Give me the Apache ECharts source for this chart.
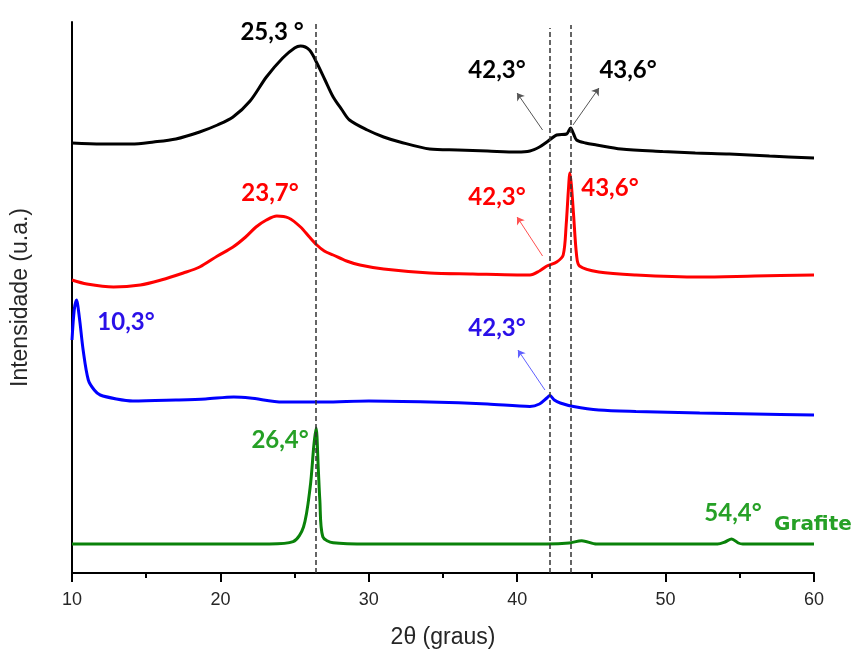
<!DOCTYPE html>
<html>
<head>
<meta charset="utf-8">
<title>DRX</title>
<script src="https://cdn.jsdelivr.net/npm/echarts@6/dist/echarts.min.js"></script>
<style>
	html, body {margin:0; padding:0; background:#fff; overflow:hidden;}
	#chart {width:862px; height:649px;}
</style>
</head>
<body>
<div id="chart"></div>
<script>
// 2θ values and intensities (u.a., offset per curve)
var megoAlphaX = [10, 12, 14, 15.5, 17, 18.6, 19.8, 20.85, 22.0, 23.1, 24.2, 25.0, 25.4, 26.0, 26.5, 27.05, 27.6, 28.2, 28.7, 29.9, 31, 32.1, 34.1, 36, 38, 40, 40.86, 41.5, 42.0, 42.66, 43.33, 43.6, 43.8, 44.0, 44.6, 45.35, 47, 49.8, 52, 54.3, 57, 60];
var megoAlphaY = [430, 429, 429, 431, 434, 441, 448, 456, 472, 496, 515, 525, 527, 523, 510, 493, 476, 463, 453, 443, 436, 431, 424, 423, 422, 421, 422, 426, 431, 438, 439, 445, 439, 433, 430, 428, 424, 421.5, 420, 419, 417, 415];

var megoX = [10, 11, 12.8, 14.6, 16, 17.5, 18.6, 19.8, 20.85, 21.7, 22.4, 23.1, 23.8, 24.6, 25.4, 26.0, 26.5, 27.0, 27.6, 28.5, 29.4, 31, 34.1, 37, 40, 40.86, 41.5, 42.0, 42.66, 43.1, 43.3, 43.45, 43.55, 43.65, 43.8, 44.0, 44.2, 45.5, 48, 52.3, 56, 60];
var megoY = [293, 289, 286, 288, 293, 300, 306, 317, 326, 336, 346, 353, 357, 355, 346, 336, 328, 322, 318, 312, 308, 304, 300, 299, 298, 298, 302, 307, 311, 318, 348, 383, 400, 388, 358, 318, 307, 301, 298, 296, 297, 298];

var groX = [10, 10.15, 10.3, 10.5, 10.75, 11.1, 11.5, 11.9, 13, 14.1, 17, 19, 20.9, 22, 24.2, 27, 30, 34.1, 38, 40.86, 41.5, 42.0, 42.2, 42.5, 42.9, 43.8, 45.5, 48, 52.3, 56, 60];
var groY = [233, 263, 273, 255, 223, 193, 183, 178, 174, 172, 173, 174, 176, 175, 171, 171, 172, 171, 169, 166.5, 169, 175, 177.5, 173, 170, 166.5, 163, 161.5, 160, 159, 158];

var grafiteX = [10, 23.3, 24.9, 25.6, 26.05, 26.3, 26.45, 26.6, 26.7, 26.9, 27.6, 30, 42, 43.5, 44.35, 45.35, 53.5, 54.0, 54.45, 54.9, 55.2, 60];
var grafiteY = [29, 29, 31.3, 46, 86, 128, 145, 103, 73, 36.3, 30.3, 29, 29, 30, 32.3, 29, 29, 31, 34, 30, 29, 29];

// dashed reference lines
var guideX = [26.4, 42.2, 43.6];
var guideTop = [551, 545, 548];

// peak labels: [text, x, y]
var megoAlphaLabels = [['25,3 °', 23.48, 541], ['42,3°', 38.64, 503], ['43,6°', 47.47, 503]];
var megoLabels = [['23,7°', 23.34, 380], ['42,3°', 38.64, 376], ['43,6°', 46.25, 385]];
var groLabels = [['10,3°', 13.64, 251], ['42,3°', 38.64, 245]];
var grafiteLabels = [['26,4°', 24.02, 133], ['54,4°', 54.54, 60]];

// sample names: [text, x, y]
var names = [['α-MEGO', 60.2, 431], ['MEGO', 60.27, 313], ['GrO', 60.2, 175], ['Grafite', 59.93, 48]];

// arrows: [x0, y0, x1, y1]
var megoAlphaArrows = [[41.71, 443, 39.99, 480], [43.76, 448, 45.51, 485]];
var megoArrows = [[41.71, 317, 39.99, 356]];
var groArrows = [[41.87, 183, 40.05, 223]];

window.DrxChart = (function(module) {

	function zip(xs, ys){
		var out = [];
		for (var i = 0; i < xs.length; i++) {
			out.push([xs[i], ys[i]]);
		}
		return out;
	}

	//峰值标注
	function peakPoints(list, color){
		return list.map(function(p){
			return {
				coord: [p[1], p[2]],
				value: p[0],
				label: {
					show: true,
					position: 'inside',
					formatter: p[0],
					color: color,
					fontFamily: 'Lato',
					fontWeight: 'bold',
					fontSize: 24
				}
			};
		});
	}

	function arrowLines(list, color){
		return list.map(function(a){
			return [
				{coord: [a[0], a[1]], symbol: 'none'},
				{coord: [a[2], a[3]], symbol: 'arrow', symbolSize: 7}
			];
		});
	}

	function curve(name, xs, ys, color, labels, labelColor, arrows, arrowColor, nameIdx){
		var pts = peakPoints(labels, labelColor);
		var n = names[nameIdx];
		pts.push({
			coord: [n[1], n[2]],
			value: n[0],
			label: {
				show: true,
				position: 'inside',
				formatter: n[0],
				color: labelColor,
				fontFamily: 'DejaVu Sans',
				fontWeight: 'bold',
				fontSize: 20
			}
		});
		return {
			name: name,
			type: 'line',
			data: zip(xs, ys),
			showSymbol: false,
			symbol: 'none',
			smooth: 0.3,
			lineStyle: {color: color, width: 3},
			z: 3,
			markPoint: {
				silent: true,
				symbol: 'circle',
				symbolSize: 1,
				itemStyle: {color: 'rgba(0,0,0,0)'},
				data: pts
			},
			markLine: {
				silent: true,
				label: {show: false},
				lineStyle: {color: arrowColor, width: 1, type: 'solid'},
				data: arrowLines(arrows, arrowColor)
			}
		};
	}

	function guides(){
		var data = guideX.map(function(x, i){
			return [{coord: [x, 0]}, {coord: [x, guideTop[i]]}];
		});
		return {
			name: 'guides',
			type: 'line',
			data: [],
			z: 2,
			markLine: {
				silent: true,
				symbol: ['none', 'none'],
				label: {show: false},
				lineStyle: {color: '#333', width: 1.5, type: [5, 3]},
				data: data
			}
		};
	}

	function init(){
		var myChart = echarts.init(document.getElementById('chart'));
		var axisText = '#262626';
		var option = {
			animation: false,
			backgroundColor: '#fff',
			grid: {left: 72, right: 48, top: 22, bottom: 76, containLabel: false, outerBoundsMode: 'none'},
			xAxis: {
				type: 'value',
				min: 10,
				max: 60,
				interval: 10,
				name: '2θ (graus)',
				nameLocation: 'middle',
				nameGap: 53,
				nameTextStyle: {fontFamily: 'Liberation Sans', fontSize: 23, color: axisText},
				axisLine: {show: true, onZero: false, lineStyle: {color: '#000', width: 2}},
				axisTick: {show: true, inside: false, length: 9, lineStyle: {color: '#000', width: 2}},
				minorTick: {show: true, splitNumber: 2, length: 5, lineStyle: {color: '#000', width: 2}},
				axisLabel: {margin: 18, fontFamily: 'Liberation Sans', fontSize: 18, color: axisText},
				splitLine: {show: false}
			},
			yAxis: {
				type: 'value',
				min: 0,
				max: 551,
				name: 'Intensidade (u.a.)',
				nameLocation: 'middle',
				nameGap: 40,
				nameTextStyle: {fontFamily: 'Liberation Sans', fontSize: 23, color: axisText},
				axisLine: {show: true, onZero: false, lineStyle: {color: '#000', width: 2}},
				axisTick: {show: false},
				axisLabel: {show: false},
				splitLine: {show: false}
			},
			series: [
				guides(),
				curve('α-MEGO', megoAlphaX, megoAlphaY, '#000', megoAlphaLabels, '#000', megoAlphaArrows, '#555', 0),
				curve('MEGO', megoX, megoY, '#ff0000', megoLabels, '#ff0000', megoArrows, '#ff5050', 1),
				curve('GrO', groX, groY, '#0000ff', groLabels, '#2a10e8', groArrows, '#6060ff', 2),
				curve('Grafite', grafiteX, grafiteY, '#0a820a', grafiteLabels, '#26a026', [], '#26a026', 3)
			]
		};
		myChart.setOption(option);
	}

	module.init = init;
	return module;
}(window.DrxChart || {}));

DrxChart.init();
</script>
</body>
</html>
